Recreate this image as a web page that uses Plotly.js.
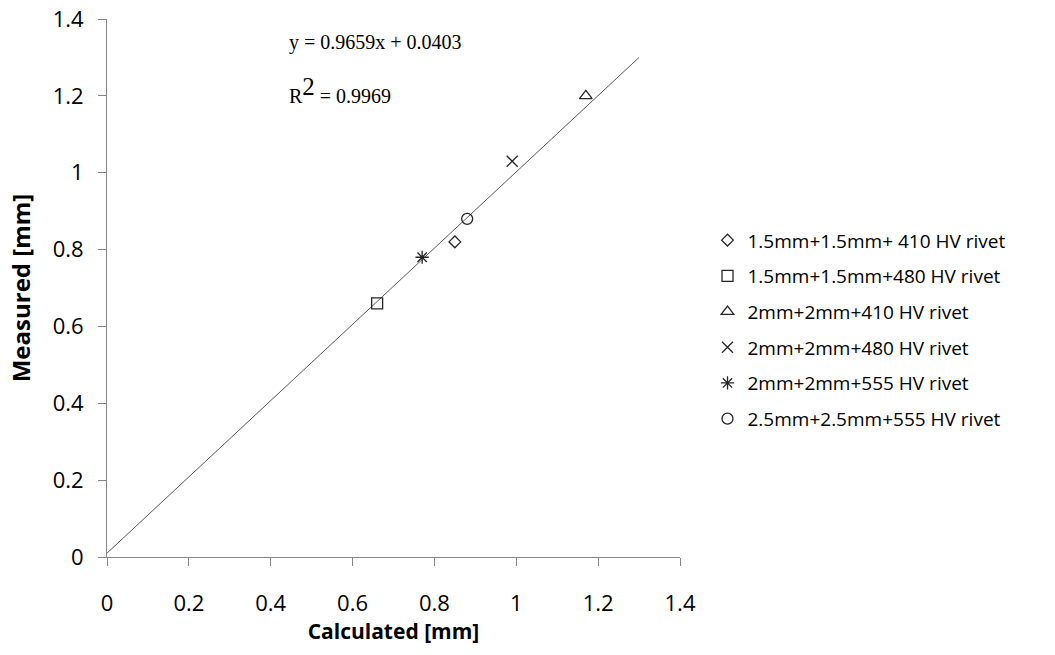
<!DOCTYPE html>
<html>
<head>
<meta charset="utf-8">
<script src="https://cdn.plot.ly/plotly-3.0.1.min.js"></script>
<style>html,body{margin:0;padding:0;background:#fff;}#chart{width:1055px;height:655px;}</style>
</head>
<body>
<div id="chart"></div>
<script>
// Data
const seriesNames = [
  "1.5mm+1.5mm+ 410 HV rivet",
  "1.5mm+1.5mm+480 HV rivet",
  "2mm+2mm+410 HV rivet",
  "2mm+2mm+480 HV rivet",
  "2mm+2mm+555 HV rivet",
  "2.5mm+2.5mm+555 HV rivet"
];
const calculated = [0.85, 0.66, 1.17, 0.99, 0.77, 0.88];
const measured   = [0.82, 0.66, 1.20, 1.03, 0.78, 0.88];
const trendX = [0.0, 1.30];
const trendY = [0.01, 1.30];
const tickVals = [0, 0.2, 0.4, 0.6, 0.8, 1, 1.2, 1.4];
const tickLabels = ["0", "0.2", "0.4", "0.6", "0.8", "1", "1.2", "1.4"];
const equationText = "y = 0.9659x + 0.0403";
const r2Text = "R<sup><span style='font-size:25px'>2</span></sup> = 0.9969";

const symbols = ["diamond-open", "square-open", "triangle-up-open", "x-thin-open", "asterisk-open", "circle-open"];
const sizes = [9, 11, 11, 11, 11, 11];

const traces = [{
  x: trendX, y: trendY, mode: "lines", type: "scatter",
  line: {color: "#595959", width: 1}, showlegend: false, hoverinfo: "skip"
}];
seriesNames.forEach((n, i) => {
  traces.push({
    x: [calculated[i]], y: [measured[i]], mode: "markers", type: "scatter", name: n,
    legendgroup: "g" + i,
    marker: {symbol: symbols[i], size: sizes[i], color: "#262626", line: {width: 1.3, color: "#262626"}}
  });
});

const font = "'Open Sans', 'Noto Sans', sans-serif";
const serif = "'Liberation Serif', 'Times New Roman', serif";
const layout = {
  width: 1055, height: 655,
  margin: {l: 107, r: 375, t: 19, b: 98},
  paper_bgcolor: "#fff", plot_bgcolor: "#fff",
  font: {family: font, color: "#000"},
  xaxis: {
    range: [0, 1.4], tickvals: tickVals, ticktext: tickLabels,
    showgrid: false, zeroline: false, showline: true, linecolor: "#868686", linewidth: 1,
    ticks: "outside", ticklen: 8, tickcolor: "#868686", ticklabelstandoff: 19,
    tickfont: {size: 22, family: font, color: "#000"},
    title: {text: "<b>Calculated [mm]</b>", font: {size: 21, family: font, color: "#000"}, standoff: 2}
  },
  yaxis: {
    range: [0, 1.4], tickvals: tickVals, ticktext: tickLabels,
    showgrid: false, zeroline: false, showline: true, linecolor: "#868686", linewidth: 1,
    ticks: "outside", ticklen: 8, tickcolor: "#868686", ticklabelstandoff: 10,
    tickfont: {size: 22, family: font, color: "#000"},
    title: {text: "<b>Measured [mm]</b>", font: {size: 24, family: font, color: "#000"}, standoff: 15}
  },
  legend: {
    x: 1.048, y: 0.624, xanchor: "left", yanchor: "top",
    font: {size: 19, family: font, color: "#000"},
    traceorder: "grouped", tracegroupgap: 8, itemwidth: 30,
    bgcolor: "rgba(0,0,0,0)"
  },
  annotations: [
    {text: equationText, xref: "x", yref: "y", x: 0.44, y: 1.34, xanchor: "left", yanchor: "middle",
     showarrow: false, font: {family: serif, size: 20, color: "#000"}},
    {text: r2Text, xref: "x", yref: "y", x: 0.44, y: 1.215, xanchor: "left", yanchor: "middle",
     showarrow: false, font: {family: serif, size: 20, color: "#000"}}
  ],
  showlegend: true
};

Plotly.newPlot("chart", traces, layout, {displayModeBar: false, staticPlot: true});
</script>
</body>
</html>
